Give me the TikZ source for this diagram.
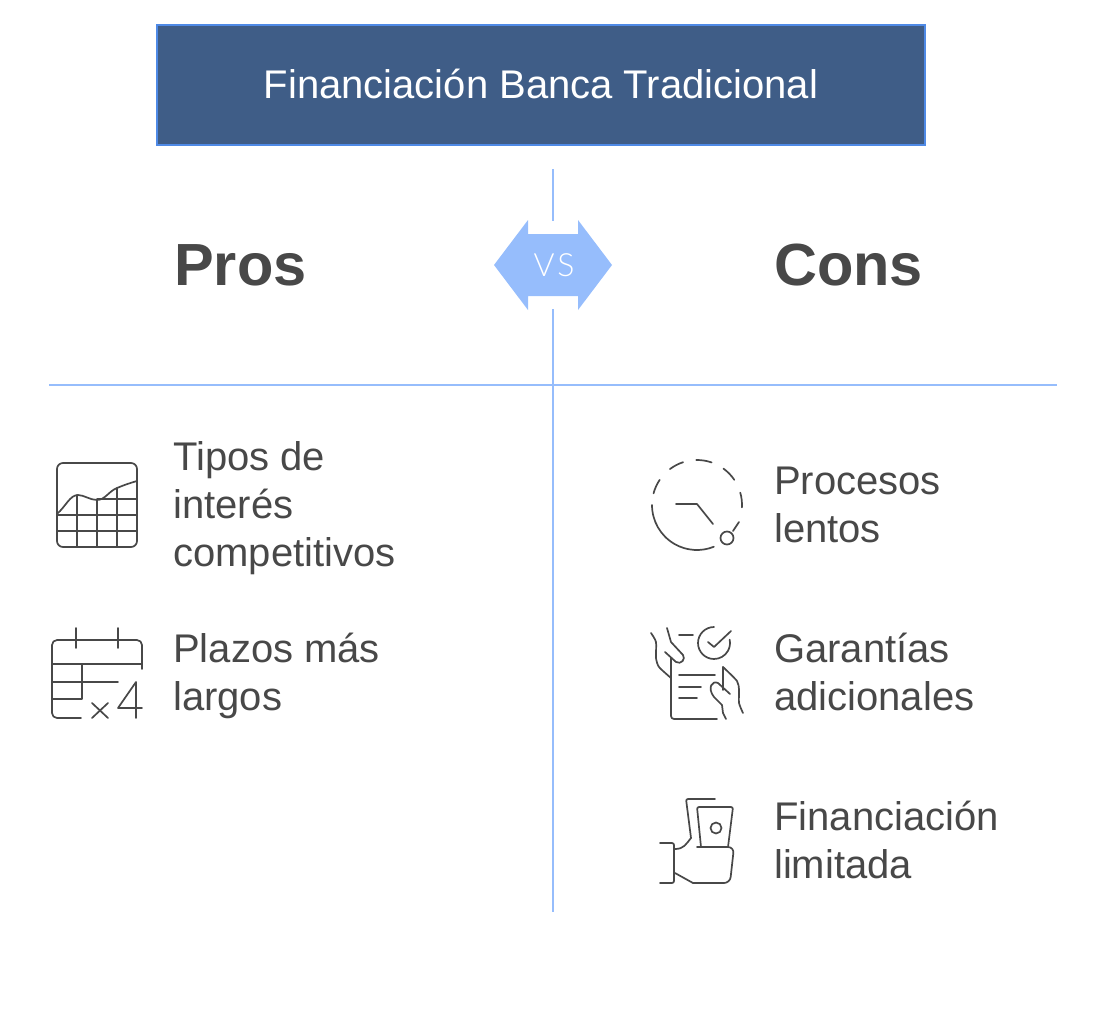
\documentclass[tikz,border=0pt]{standalone}
\usepackage{fontspec}
\setmainfont{Liberation Sans}
\newfontfamily\vsfont[LetterSpace=10]{Lato Light}
\usetikzlibrary{positioning,calc}
\definecolor{titlefill}{HTML}{3F5D87}
\definecolor{titleedge}{HTML}{4F8AE6}
\definecolor{rulecol}{HTML}{96BDFC}
\definecolor{inkcol}{HTML}{484848}
\tikzset{
    rulebar/.style={rulecol, line width=1.4pt},
    iconline/.style={inkcol, line width=1.7pt, line cap=round, line join=round},
    itemtext/.style={inkcol, anchor=west, inner sep=0pt, align=left, font=\fontsize{40}{48}\selectfont},
    headtext/.style={inkcol, anchor=base west, inner sep=0pt, font=\fontsize{59.5}{60}\selectfont\bfseries}
}

\begin{document}
\begin{tikzpicture}[x=1pt,y=-1pt]
        \useasboundingbox (0,0) rectangle (1107,1010);

        % title
        \node[draw=titleedge, fill=titlefill, line width=1.4pt, minimum width=768pt, minimum height=120pt,
              text depth=2pt, text=white, font=\fontsize{40}{48}\selectfont] (title) at (541,85) {Financiación Banca Tradicional};

        % dividers
        \coordinate (rowleft) at (49,385);
        \coordinate (rowright) at (1057,385);
        \coordinate (midtop) at (553,169);
        \coordinate (midupper) at (553,221);
        \coordinate (midlower) at (553,309);
        \coordinate (midbottom) at (553,912);
        \draw[rulebar] (midtop) -- (midupper);
        \draw[rulebar] (midlower) -- (midbottom);
        \draw[rulebar] (rowleft) -- (rowright);

        % VS
        \fill[rulecol] (494,265) -- (528,220) -- (528,234) -- (578,234) -- (578,220) -- (612,265)
            -- (578,310) -- (578,296) -- (528,296) -- (528,310) -- cycle;
        \node[text=white, inner sep=0pt, font=\fontsize{32}{32}\vsfont] (vs) at (554,265) {VS};

        % headings
        \node[headtext] (pros) at (174,285) {Pros};
        \node[headtext] (cons) at (774,285) {Cons};

        % items
        \node[itemtext] (tipos) at (173,508) {Tipos de\\interés\\competitivos};
        \node[itemtext] (plazos) at (173,676) {Plazos más\\largos};
        \node[itemtext] (procesos) at (774,505) {Procesos\\lentos};
        \node[itemtext] (garantias) at (774,672) {Garantías\\adicionales};
        \node[itemtext] (limitada) at (774,840) {Financiación\\limitada};

        % chart icon
        \begin{scope}[iconline]
            \draw[rounded corners=6pt] (57,463) rectangle (137,547);
            \draw (57,514) .. controls (66,506) and (70,495) .. (78,495)
                .. controls (84,495) and (90,500) .. (97,500)
                .. controls (105,500) and (109,491) .. (117,488)
                .. controls (124,485) and (130,483) .. (137,481);
            \foreach \x/\ytop in {77/495, 97/500, 117/488}
                \draw (\x,\ytop) -- (\x,547);
            \draw (97,499) -- (137,499);
            \draw (57,515) -- (137,515);
            \draw (57,531) -- (137,531);
        \end{scope}

        % calendar icon
        \begin{scope}[iconline]
            \draw[rounded corners=5pt] (81,718) -- (52,718) -- (52,640) -- (142,640) -- (142,669);
            \foreach \x in {76, 118}
                \draw (\x,628) -- (\x,648);
            \draw (52,664) -- (142,664);
            \draw (52,682) -- (118,682);
            \draw (82,664) -- (82,699) -- (52,699);
            \draw (92,703) -- (108,718);
            \draw (108,703) -- (92,718);
            \draw (136,718) -- (136,682) -- (118,708) -- (142,708);
        \end{scope}

        % clock icon
        \begin{scope}[iconline]
            \foreach \a/\b in {165/146, 127/108, 91/71, 54/34, 16/-3}
                \draw (697,505) ++(-\a:45) arc[start angle=-\a, end angle=-\b, radius=45];
            \draw (697,505) ++(-180:45) arc[start angle=-180, end angle=-292, radius=45];
            \draw (676,504) -- (697,504) -- (713,524);
            \draw (727,538) circle (6.5);
            \draw (733,531) -- (739,522);
        \end{scope}

        % document icon
        \begin{scope}[iconline]
            \draw plot[smooth, tension=0.4] coordinates {(651,633) (656,642) (656,658) (659,667) (671,678)};
            \draw (667,628) -- (671,642) -- (683,655);
            \draw (665,652) -- (676,662) .. controls (681,665) and (686,659) .. (683,655);
            \draw[rounded corners=3pt] (671,658) -- (671,719) -- (717,719);
            \draw (679,635) -- (693,635);
            \draw (714,627) arc[start angle=-90, end angle=-372, radius=16];
            \draw (708,642) -- (714,647) -- (731,631);
            \draw (679,675) -- (715,675);
            \draw (679,687) -- (701,687);
            \draw (679,698) -- (697,698);
            \draw (723,667) -- (723,690);
            \draw plot[smooth, tension=0.4] coordinates {(723,667) (737,681) (739,690) (739,703) (743,713)};
            \draw (730,694) -- (718,683) .. controls (712,680) and (707,688) .. (714,697) -- (722,705) -- (723,713) -- (726,719);
        \end{scope}

        % money icon
        \begin{scope}[iconline]
            \draw[rounded corners=2pt] (715,799) -- (686,799) -- (691,838);
            \draw (691,838) .. controls (686,844) and (684,849) .. (675,849);
            \draw[rounded corners=2pt] (660,843) -- (674,843) -- (674,883) -- (660,883);
            \draw[rounded corners=2pt] (701,847) -- (697,807) -- (733,807) -- (728,847);
            \draw (716,828) circle (5.5);
            \draw[rounded corners=6pt] (697,847) -- (734,847) -- (730,883) -- (693,883);
            \draw (693,883) -- (675,873);
        \end{scope}
\end{tikzpicture}
\end{document}
